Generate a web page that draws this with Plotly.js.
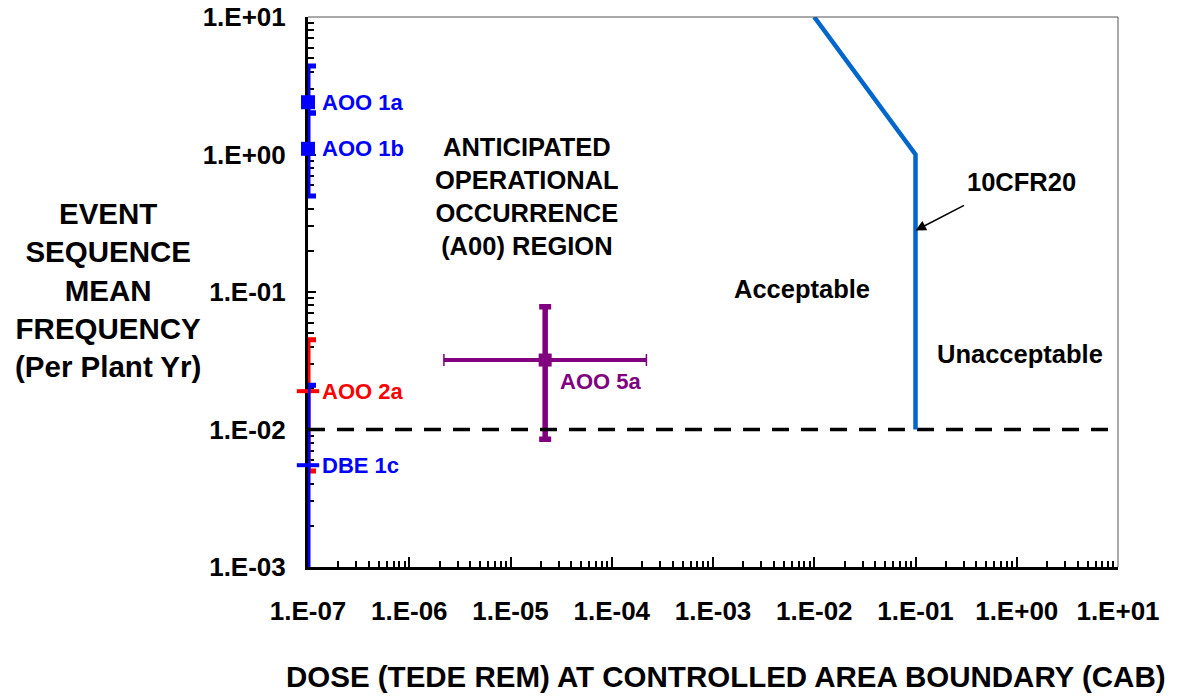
<!DOCTYPE html>
<html>
<head>
<meta charset="utf-8">
<script src="https://cdn.plot.ly/plotly-3.0.1.min.js"></script>
<style>
  html, body { margin: 0; padding: 0; background: #ffffff; }
  #chart { width: 1203px; height: 696px; }
</style>
</head>
<body>
<div id="chart"></div>
<script>
// Decade tick labels on both log axes
const xTickVals = [1e-7, 1e-6, 1e-5, 1e-4, 1e-3, 1e-2, 1e-1, 1e0, 1e1];
const xTickText = ["1.E-07", "1.E-06", "1.E-05", "1.E-04", "1.E-03", "1.E-02", "1.E-01", "1.E+00", "1.E+01"];
const yTickVals = [1e-3, 1e-2, 1e-1, 1e0, 1e1];
const yTickText = ["1.E-03", "1.E-02", "1.E-01", "1.E+00", "1.E+01"];

// Event sequences: dose (x), mean frequency (y) and frequency bounds
const aoo1aX = [1e-7], aoo1aY = [2.4], aoo1aLow = [2.0], aoo1aHigh = [4.4];
const aoo1bX = [1e-7], aoo1bY = [1.1], aoo1bLow = [0.5], aoo1bHigh = [2.0];
const aoo2aX = [1e-7], aoo2aY = [0.019], aoo2aLow = [0.005], aoo2aHigh = [0.045];
const dbe1cX = [1e-7], dbe1cY = [0.0055], dbe1cLow = [0.00085], dbe1cHigh = [0.021];
const aoo5aX = [2.2e-5], aoo5aY = [0.032], aoo5aLow = [0.0085], aoo5aHigh = [0.078];
const aoo5aXLow = [2.2e-6], aoo5aXHigh = [2.2e-4];

// 10CFR20 limit curve and the AOO frequency threshold
const cfrX = [0.01, 0.1, 0.1];
const cfrY = [10, 1, 0.01];
const thresholdX = [1e-7, 1e1];
const thresholdY = [0.01, 0.01];

const FONT = "Liberation Sans, Arial, sans-serif";

function diff(a, b) { return a.map((v, i) => v - b[i]); }

function errTrace(x, y, lo, hi, color, marker) {
  return {
    type: "scatter", mode: "markers", x: x, y: y,
    marker: marker,
    error_y: {
      type: "data", symmetric: false,
      array: diff(hi, y), arrayminus: diff(y, lo),
      color: color, thickness: 5, width: 8
    },
    cliponaxis: false, showlegend: false, hoverinfo: "skip"
  };
}

const dashMarker = (c) => ({ symbol: "line-ew", size: 16, color: c, line: { color: c, width: 4 } });
const squareMarker = (c) => ({ symbol: "square", size: 14, color: c });

const PURPLE = "#800080";

const traces = [
  errTrace(aoo2aX, aoo2aY, aoo2aLow, aoo2aHigh, "#ff0000", dashMarker("#ff0000")),
  errTrace(dbe1cX, dbe1cY, dbe1cLow, dbe1cHigh, "#0000ff", dashMarker("#0000ff")),
  errTrace(aoo1bX, aoo1bY, aoo1bLow, aoo1bHigh, "#0000ff", squareMarker("#0000ff")),
  errTrace(aoo1aX, aoo1aY, aoo1aLow, aoo1aHigh, "#0000ff", squareMarker("#0000ff")),
  // AOO 5a dose range: thick bar with thin end ticks
  {
    type: "scatter", mode: "lines",
    x: [aoo5aXLow[0], aoo5aXHigh[0]], y: [aoo5aY[0], aoo5aY[0]],
    line: { color: PURPLE, width: 4 },
    showlegend: false, hoverinfo: "skip"
  },
  {
    type: "scatter", mode: "markers", x: aoo5aX, y: aoo5aY,
    marker: { size: 0.1, color: PURPLE, opacity: 0 },
    error_x: {
      type: "data", symmetric: false,
      array: diff(aoo5aXHigh, aoo5aX), arrayminus: diff(aoo5aX, aoo5aXLow),
      color: PURPLE, thickness: 1.5, width: 6
    },
    showlegend: false, hoverinfo: "skip"
  },
  // AOO 5a frequency range and mean
  {
    type: "scatter", mode: "markers", x: aoo5aX, y: aoo5aY,
    marker: { symbol: "square", size: 13, color: PURPLE },
    error_y: {
      type: "data", symmetric: false,
      array: diff(aoo5aHigh, aoo5aY), arrayminus: diff(aoo5aY, aoo5aLow),
      color: PURPLE, thickness: 5.5, width: 6
    },
    showlegend: false, hoverinfo: "skip"
  },
  {
    type: "scatter", mode: "lines", x: thresholdX, y: thresholdY,
    line: { color: "#000000", width: 3.5, dash: "17px,12px" },
    cliponaxis: false, showlegend: false, hoverinfo: "skip"
  },
  {
    type: "scatter", mode: "lines", x: cfrX, y: cfrY,
    line: { color: "#0066cc", width: 4.5 },
    cliponaxis: false, showlegend: false, hoverinfo: "skip"
  }
];

const lg = Math.log10;
const boldFont = (size, color) => ({ family: FONT, size: size, color: color || "#000000", weight: "bold" });

const annotations = [
  { x: lg(aoo1aX[0]), y: lg(aoo1aY[0]), text: "<b>AOO 1a</b>", showarrow: false, xanchor: "left", xshift: 12, font: boldFont(22, "#0000ff") },
  { x: lg(aoo1bX[0]), y: lg(aoo1bY[0]), text: "<b>AOO 1b</b>", showarrow: false, xanchor: "left", xshift: 12, font: boldFont(22, "#0000ff") },
  { x: lg(aoo2aX[0]), y: lg(aoo2aY[0]), text: "<b>AOO 2a</b>", showarrow: false, xanchor: "left", xshift: 12, font: boldFont(22, "#ff0000") },
  { x: lg(dbe1cX[0]), y: lg(dbe1cY[0]), text: "<b>DBE 1c</b>", showarrow: false, xanchor: "left", xshift: 12, font: boldFont(22, "#0000ff") },
  { x: lg(aoo5aX[0]), y: lg(aoo5aY[0]), text: "<b>AOO 5a</b>", showarrow: false, xanchor: "left", xshift: 13, yshift: -21, font: boldFont(22, PURPLE) },
  { xref: "paper", yref: "paper", x: (527 - 308) / 810, y: (567 - 196) / 550, text: "<b>ANTICIPATED<br>OPERATIONAL<br>OCCURRENCE<br>(A00) REGION</b>", showarrow: false, xanchor: "center", yanchor: "middle", font: boldFont(25.5) },
  { xref: "paper", yref: "paper", x: (1021 - 308) / 810, y: (567 - 182) / 550, text: "<b>10CFR20</b>", showarrow: false, xanchor: "center", yanchor: "middle", font: boldFont(25.5) },
  { x: lg(0.1), y: lg(0.28), text: "", showarrow: true, ax: 50, ay: -26, arrowhead: 2, arrowsize: 1.4, arrowwidth: 1.5, arrowcolor: "#000000", standoff: 0 },
  { xref: "paper", yref: "paper", x: (802 - 308) / 810, y: (567 - 289) / 550, text: "<b>Acceptable</b>", showarrow: false, xanchor: "center", yanchor: "middle", font: boldFont(25.5) },
  { xref: "paper", yref: "paper", x: (1020 - 308) / 810, y: (567 - 354) / 550, text: "<b>Unacceptable</b>", showarrow: false, xanchor: "center", yanchor: "middle", font: boldFont(25.5) },
  { xref: "paper", yref: "paper", x: (108 - 308) / 810, y: (567 - 290) / 550, text: "<b>EVENT<br>SEQUENCE<br>MEAN<br>FREQUENCY<br>(Per Plant Yr)</b>", showarrow: false, xanchor: "center", yanchor: "middle", font: boldFont(29.5) },
  { xref: "paper", yref: "paper", x: (726 - 308) / 810, y: (567 - 676) / 550, text: "<b>DOSE (TEDE REM) AT CONTROLLED AREA BOUNDARY (CAB)</b>", showarrow: false, xanchor: "center", yanchor: "middle", font: boldFont(29.5) }
];

const layout = {
  width: 1203, height: 696,
  margin: { l: 308, r: 85, t: 17, b: 129, pad: 0 },
  paper_bgcolor: "#ffffff", plot_bgcolor: "#ffffff",
  showlegend: false,
  font: { family: FONT, color: "#000000" },
  xaxis: {
    type: "log", range: [-7, 1], autorange: false,
    tickmode: "array", tickvals: xTickVals, ticktext: xTickText,
    ticks: "inside", ticklen: 10, tickwidth: 2, tickcolor: "#000000",
    minor: { ticks: "inside", ticklen: 6, tickwidth: 2, tickcolor: "#000000", dtick: "D1", showgrid: false },
    showgrid: false, zeroline: false,
    showline: true, linecolor: "#000000", linewidth: 3,
    layer: "below traces",
    ticklabelstandoff: 19,
    tickfont: boldFont(26)
  },
  yaxis: {
    type: "log", range: [-3, 1], autorange: false,
    tickmode: "array", tickvals: yTickVals, ticktext: yTickText,
    ticks: "inside", ticklen: 8, tickwidth: 2, tickcolor: "#000000",
    minor: { ticks: "inside", ticklen: 6, tickwidth: 2, tickcolor: "#000000", dtick: "D1", showgrid: false },
    showgrid: false, zeroline: false,
    showline: true, linecolor: "#000000", linewidth: 3,
    layer: "below traces",
    ticklabelstandoff: 14,
    tickfont: boldFont(26)
  },
  shapes: [
    { type: "line", xref: "paper", yref: "paper", x0: 0, x1: 1, y0: 1, y1: 1, line: { color: "#555555", width: 1 } },
    { type: "line", xref: "paper", yref: "paper", x0: 1, x1: 1, y0: 0, y1: 1, line: { color: "#555555", width: 1 } }
  ],
  annotations: annotations
};

Plotly.newPlot("chart", traces, layout, { staticPlot: true, displayModeBar: false });
</script>
</body>
</html>
